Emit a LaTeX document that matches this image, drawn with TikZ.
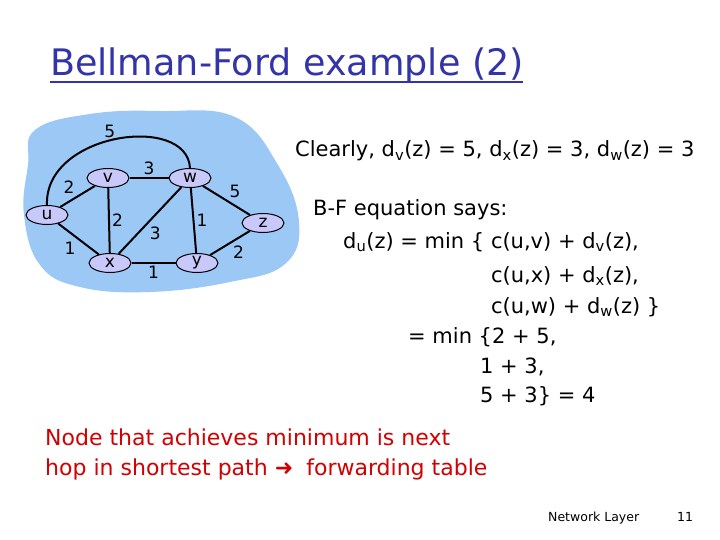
\documentclass[tikz,border=0pt]{standalone}
\usepackage{fontspec}
\setmainfont{DejaVu Sans}
\usetikzlibrary{shapes.geometric}

\definecolor{cloudblue}{RGB}{155,200,245}
\definecolor{routerfill}{RGB}{200,200,250}
\definecolor{titleblue}{RGB}{51,51,170}
\definecolor{notered}{RGB}{210,0,0}

\tikzset{
  router/.style={ellipse,draw,line width=1pt,fill=routerfill,minimum width=42pt,minimum height=19pt,inner sep=0pt,font=\fontsize{17}{17}\selectfont},
  lbl/.style={inner sep=2pt,font=\fontsize{17}{17}\selectfont},
  link/.style={line width=2pt},
  txt/.style={anchor=base west,inner sep=0pt,font=\fontsize{21}{21}\selectfont},
  redtxt/.style={txt,text=notered,font=\fontsize{22}{22}\selectfont},
  foot/.style={anchor=base west,inner sep=0pt,font=\fontsize{12.5}{12.5}\selectfont}
}

\begin{document}
\begin{tikzpicture}[x=1pt,y=-1pt]
\useasboundingbox (0,0) rectangle (720,540);
% title
\node [anchor=base west,inner sep=0pt,text=titleblue,font=\fontsize{36.5}{36.5}\selectfont] (title) at (50,76) {Bellman-Ford example (2)};
\draw [titleblue,line width=2pt] (title.base west) ++(0,6) -- ++(473,0);
% network cloud
\fill [cloudblue] plot [smooth cycle,tension=0.7] coordinates {(35,130) (90,114) (160,111) (235,117) (278,165) (299,222) (285,264) (230,282) (150,292) (80,287) (40,265) (24,215) (28,165)};
\node [router] (u) at (47,215) {u};
\node [router] (v) at (108,178) {v};
\node [router] (w) at (190,178) {w};
\node [router] (z) at (263,223) {z};
\node [router] (x) at (110,263) {x};
\node [router] (y) at (197,263) {y};
\draw [link] (u.north) .. controls (44,133) and (187,113) .. node[lbl,pos=0.47,above] {5} (w.north);
\draw [link] (u) -- node[lbl,above left] {2} (v);
\draw [link] (v) -- node[lbl,above] {3} (w);
\draw [link] (v) -- node[lbl,right] {2} (x);
\draw [link] (x) -- node[lbl,below right,pos=0.45] {3} (w);
\draw [link] (w) -- node[lbl,right] {1} (y);
\draw [link] (w) -- node[lbl,above right] {5} (z);
\draw [link] (u) -- node[lbl,below left] {1} (x);
\draw [link] (x) -- node[lbl,below] {1} (y);
\draw [link] (y) -- node[lbl,below right] {2} (z);
% text on the right
\node [txt] (clearly) at (295,157) {Clearly, d\textsubscript{v}(z) = 5, d\textsubscript{x}(z) = 3, d\textsubscript{w}(z) = 3};
\node [txt] (bf) at (313,215) {B-F equation says:};
\node [txt] (eq1) at (343,248) {d\textsubscript{u}(z) = min \{ c(u,v) + d\textsubscript{v}(z),};
\node [txt] (eq2) at (343,282) {\phantom{d\textsubscript{u}(z) = min \{ }c(u,x) + d\textsubscript{x}(z),};
\node [txt] (eq3) at (343,313) {\phantom{d\textsubscript{u}(z) = min \{ }c(u,w) + d\textsubscript{w}(z) \}};
\node [txt] (eq4) at (408,343) {= min \{2 + 5,};
\node [txt] (eq5) at (480,373) {1 + 3,};
\node [txt] (eq6) at (480,402) {5 + 3\} = 4};
% note
\node [redtxt] (note1) at (45,445) {Node that achieves minimum is next};
\node [redtxt] (note2) at (45,475) {hop in shortest path \textbf{➜}\; forwarding table};
% footer
\node [foot] (footer) at (548,521) {Network Layer};
\node [foot] (page) at (677,521) {11};
\end{tikzpicture}
\end{document}
